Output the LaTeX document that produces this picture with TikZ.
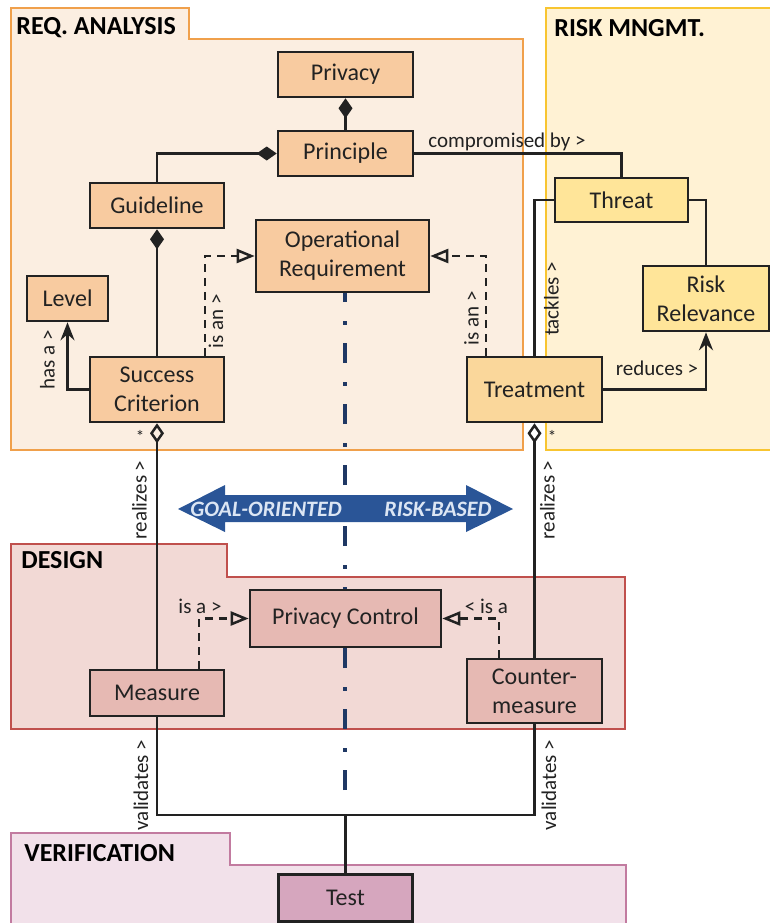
\documentclass[tikz,border=0pt]{standalone}
\usepackage{fontspec}
\setmainfont{Carlito}
\usepackage{xcolor}
\usetikzlibrary{arrows.meta}

\definecolor{ink}{HTML}{222222}
\definecolor{reqfill}{HTML}{FBEEE1}
\definecolor{reqedge}{HTML}{F0A04B}
\definecolor{riskfill}{HTML}{FFF2D4}
\definecolor{riskedge}{HTML}{F8C530}
\definecolor{desfill}{HTML}{F2D9D5}
\definecolor{desedge}{HTML}{C0504D}
\definecolor{verfill}{HTML}{F2E1EA}
\definecolor{veredge}{HTML}{C27BA0}
\definecolor{reqcol}{HTML}{F8CBA0}
\definecolor{threatcol}{HTML}{FFE599}
\definecolor{treatcol}{HTML}{FAD79B}
\definecolor{descol}{HTML}{E6B9B3}
\definecolor{testcol}{HTML}{D6A6BE}
\definecolor{arrowblue}{HTML}{2A5597}
\definecolor{arrowtext}{HTML}{DCE6F4}
\definecolor{axisblue}{HTML}{1F3864}

\begin{document}
\begin{tikzpicture}[x=0.5pt,y=-0.5pt,
  cls/.style={draw=ink,line width=1.3pt,align=center,inner sep=1pt,text=ink,
    font=\fontsize{12}{14.5}\selectfont},
  reqcls/.style={cls,fill=reqcol},
  desgcls/.style={cls,fill=descol},
  lbl/.style={text=ink,inner sep=0pt,font=\fontsize{10.5}{12}\selectfont},
  title/.style={anchor=west,inner sep=0pt,text=black,font=\bfseries\fontsize{13}{15}\selectfont},
  arrtxt/.style={text=arrowtext,inner sep=0pt,font=\bfseries\itshape\fontsize{11}{13}\selectfont},
  link/.style={draw=ink,line width=1.25pt},
  isa/.style={link,dash pattern=on 4pt off 3pt,-{Triangle[open,length=9pt,width=7pt]}},
  comp/.style={link,-{Diamond[length=10pt,width=7pt]}},
  agg/.style={link,{Diamond[open,length=10pt,width=7pt]}-},
  assoc/.style={link,-{Stealth[length=9pt,width=7pt,inset=3pt]}}]
\useasboundingbox (0,0) rectangle (770,923);

% Panels
\filldraw[fill=reqfill,draw=reqedge,line width=0.7pt] (11,8) -- (189,8) -- (189,39) -- (523,39) -- (523,450) -- (11,450) -- cycle;
\node[title] (treq) at (16,28) {REQ. ANALYSIS};
\filldraw[fill=riskfill,draw=riskedge,line width=0.7pt] (546,8) rectangle (790,450);
\node[title] (trisk) at (554,28) {RISK MNGMT.};
\filldraw[fill=desfill,draw=desedge,line width=0.7pt] (11,544) -- (227,544) -- (227,577) -- (625,577) -- (625,729) -- (11,729) -- cycle;
\node[title] (tdes) at (21,560) {DESIGN};
\filldraw[fill=verfill,draw=veredge,line width=0.7pt] (11,833) -- (230,833) -- (230,865) -- (626,865) -- (626,940) -- (11,940) -- cycle;
\node[title] (tver) at (24,853) {VERIFICATION};

% Axis between the two approaches
\draw[axisblue,line width=2.2pt,dash pattern=on 10pt off 9.25pt on 2pt off 9.25pt] (345,790) -- (345,216);

% Goal-oriented / risk-based arrow
\fill[arrowblue] (178,509) -- (225,485) -- (225,495) -- (466,495) -- (466,485) -- (513,509)
  -- (466,532) -- (466,522) -- (225,522) -- (225,532) -- cycle;
\node[arrtxt] (goal) at (266,509) {GOAL-ORIENTED};
\node[arrtxt] (riskb) at (438,509) {RISK-BASED};

% Requirements analysis
\node[reqcls,minimum width=67.5pt,minimum height=22.5pt] (privacy) at (345.5,74.5) {Privacy};
\node[reqcls,minimum width=67.5pt,minimum height=22.5pt] (principle) at (345.5,153.5) {Principle};
\node[reqcls,minimum width=67pt,minimum height=22.5pt] (guide) at (157,205.5) {Guideline};
\node[reqcls,minimum width=86.5pt,minimum height=36pt] (opreq) at (342.5,256) {Operational\\Requirement};
\node[reqcls,minimum width=40.5pt,minimum height=22.5pt] (level) at (67.5,298.5) {Level};
\node[reqcls,minimum width=67pt,minimum height=32.5pt] (succ) at (157,389.5) {Success\\Criterion};

% Risk management
\node[cls,fill=threatcol,minimum width=66.5pt,minimum height=22pt] (threat) at (621.5,200) {Threat};
\node[cls,fill=threatcol,minimum width=63pt,minimum height=32.5pt] (risk) at (706,298.5) {Risk\\Relevance};
\node[cls,fill=treatcol,minimum width=67.5pt,minimum height=32.5pt] (treat) at (534.5,389.5) {Treatment};

% Design
\node[desgcls,minimum width=95.5pt,minimum height=28.5pt] (pctrl) at (345.5,618.5) {Privacy Control};
\node[desgcls,minimum width=67pt,minimum height=23pt] (measure) at (157,693) {Measure};
\node[desgcls,minimum width=67.5pt,minimum height=32pt] (counter) at (534.5,691) {Counter-\\measure};

% Verification
\node[cls,fill=testcol,minimum width=67pt,minimum height=23.5pt] (test) at (345.5,898) {Test};
\coordinate (vjoin) at (345.5,815);

% Connectors
\draw[comp] (principle.north) -- (privacy.south);
\draw[comp] (guide.north) |- (principle.west);
\draw[comp] (succ.north) -- (guide.south);
\draw[assoc] (succ.west) -| (level.south);
\draw[isa] ([xshift=24pt]succ.north) |- (opreq.west);
\draw[isa] ([xshift=-24.25pt]treat.north) |- (opreq.east);
\draw[link] (principle.east) -| (threat.north);
\draw[link] (threat.west) -| (treat.north);
\draw[link] (threat.east) -| (risk.north);
\draw[assoc] (treat.east) -| (risk.south);
\draw[agg] (succ.south) -- (measure.north);
\draw[agg] (treat.south) -- (counter.north);
\draw[isa] ([xshift=21pt]measure.north) |- (pctrl.west);
\draw[isa] ([xshift=-17.75pt]counter.north) |- (pctrl.east);
\draw[link] (measure.south) |- (vjoin) -| (counter.south);
\draw[link] (test.north) -- (vjoin);

% Labels
\node[lbl] (lcomp) at (507,142) {compromised by >};
\node[lbl,rotate=90] (lhas) at (47.5,360) {has a >};
\node[lbl,rotate=90] (lisanl) at (216,321) {is an >};
\node[lbl,rotate=90] (lisanr) at (471.5,318) {is an >};
\node[lbl,rotate=90] (ltack) at (551.5,299) {tackles >};
\node[lbl] (lred) at (657,368) {reduces >};
\node[lbl] (lstarl) at (140,436) {\fontsize{8.5}{9}\selectfont *};
\node[lbl] (lstarr) at (552,436) {\fontsize{8.5}{9}\selectfont *};
\node[lbl,rotate=90] (lreall) at (139.5,500) {realizes >};
\node[lbl,rotate=90] (lrealr) at (547.5,500) {realizes >};
\node[lbl] (lisal) at (200,606) {is a >};
\node[lbl] (lisar) at (486.5,606) {< is a};
\node[lbl,rotate=90] (lvall) at (141,785) {validates >};
\node[lbl,rotate=90] (lvalr) at (549,785) {validates >};
\end{tikzpicture}
\end{document}
